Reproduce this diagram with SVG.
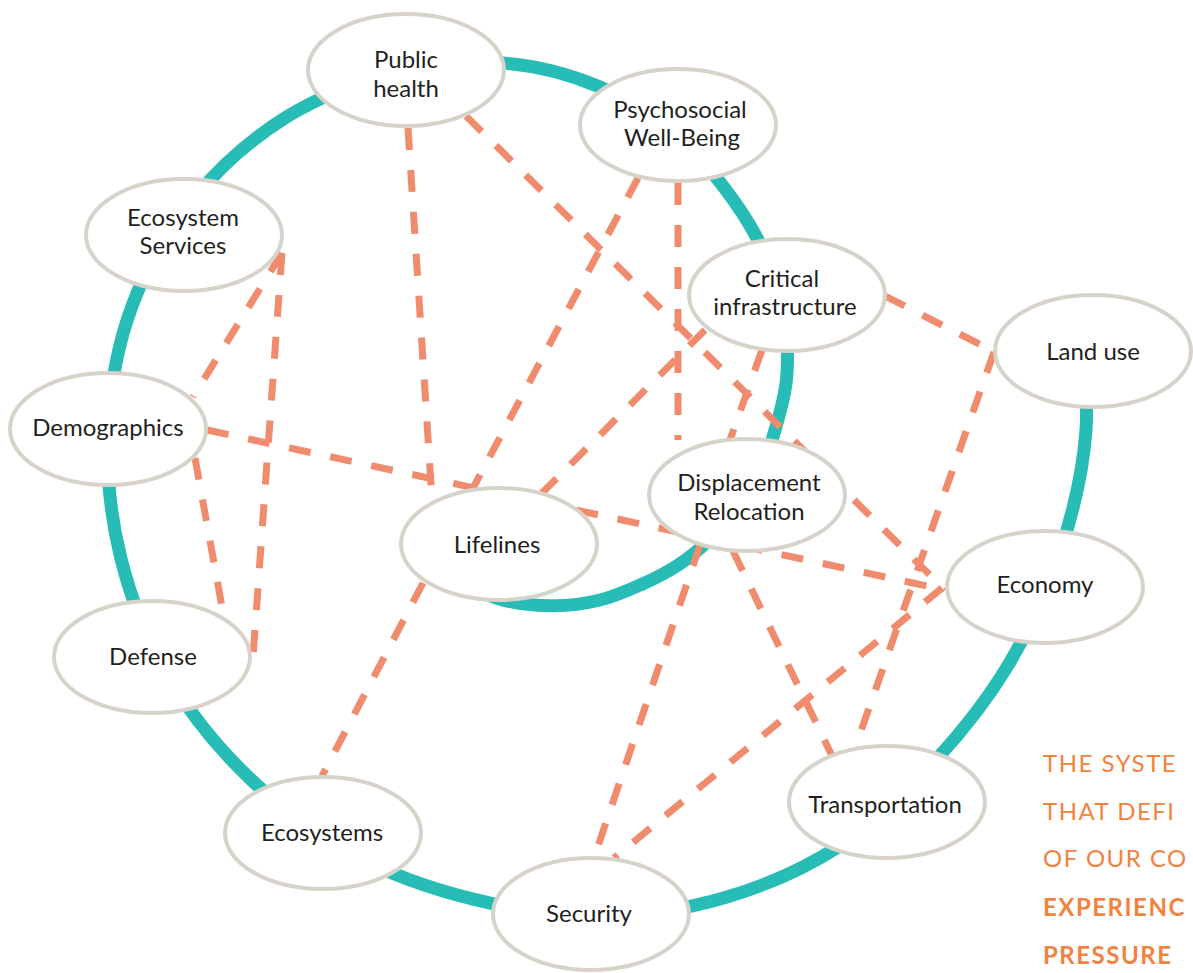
<svg xmlns="http://www.w3.org/2000/svg" width="1193" height="973" viewBox="0 0 1193 973">
<style>
.node ellipse{fill:#ffffff;stroke:#d7d3cb;stroke-width:4}
.node text{font-family:Lato,"Open Sans","Liberation Sans",sans-serif;font-size:24px;fill:#231f20;text-anchor:middle}
.spiral{fill:none;stroke:#27bdb6;stroke-width:13;stroke-linecap:butt}
.link{stroke:#f08b6d;stroke-width:7;stroke-dasharray:22 20;fill:none}
.cap{font-family:Lato,"Open Sans","Liberation Sans",sans-serif;font-size:24px;fill:#f2823e;letter-spacing:1.5px}
.capb{font-weight:bold}
</style>
<rect width="1193" height="973" fill="#ffffff"/>
<path class="spiral" d="M1077.2,302.2 C1080.1,344.8 1088.9,388.2 1086,430 C1083.1,471.8 1072.8,513.95 1059.8,553.2 C1046.8,592.5 1029,630.5 1007.9,665.5 C986.8,700.5 961,733 933,763 C905,793 874.6,823.3 840,845.7 C805.4,868.1 765.3,885.8 725.3,897.5 C685.3,909.2 641.9,915.7 600,916 C558.2,916.3 515.1,909.5 474.2,899.4 C433.3,889.3 391.8,875.2 354.5,855.2 C317.3,835.2 281.5,808.8 250.7,779.3 C219.9,749.9 191.2,715.3 169.6,678.5 C148,641.7 131.2,599.8 120.9,558.4 C110.6,517 106.1,472.3 108,430 C109.9,387.7 117.9,343.6 132.5,304.7 C147.1,265.8 169.9,227.8 195.6,196.5 C221.3,165.2 253.7,137.4 286.8,116.8 C319.9,96.3 358.2,82.2 394,73.2 C429.8,64.2 467.4,60.7 501.7,63 C536,65.3 570.6,74.6 600,87 C629.5,99.4 656.2,118.5 678.4,137.3 C700.6,156.1 718,178.9 733,199.6 C748,220.3 759.6,241.1 768.3,261.7 C777,282.3 782.3,303.3 785.3,323 C788.3,342.7 788.1,362.2 786.4,380 C784.7,397.8 779.5,414.6 775,430 C770.5,445.5 765.8,459.5 759.4,472.7 C753,485.9 745.1,497.9 736.8,509 C728.5,520.2 719.4,530.3 709.6,539.6 C699.8,549 689.4,557.6 678,565.1 C666.6,572.6 654.4,578.7 641.4,584.5 C628.4,590.3 614.8,596.5 600,600 C585.3,603.6 569.2,605.9 552.9,605.8 C536.6,605.8 518.9,604.3 502,599.7 C485.1,595.2 468.3,585.6 451.5,578.5"/>
<g id="connectors">
<line class="link" x1="408" y1="128" x2="432" y2="500"/>
<line class="link" x1="466" y1="116" x2="945" y2="590"/>
<line class="link" x1="638" y1="178" x2="472" y2="490"/>
<line class="link" x1="678" y1="183" x2="678" y2="440"/>
<line class="link" x1="705" y1="330" x2="538" y2="497"/>
<line class="link" x1="762" y1="350" x2="730" y2="440"/>
<line class="link" x1="885" y1="296" x2="995" y2="352"/>
<line class="link" x1="994" y1="352" x2="855" y2="748"/>
<line class="link" x1="282" y1="253" x2="193" y2="397"/>
<line class="link" x1="282" y1="253" x2="253" y2="657"/>
<line class="link" x1="195" y1="458" x2="224" y2="618"/>
<line class="link" x1="207" y1="430" x2="945" y2="590"/>
<line class="link" x1="423" y1="583" x2="322" y2="776"/>
<line class="link" x1="700" y1="545" x2="594" y2="858"/>
<line class="link" x1="733" y1="551" x2="834" y2="760"/>
<line class="link" x1="942" y1="588" x2="614" y2="858"/>
</g>
<g id="public-health" class="node"><ellipse cx="406" cy="70" rx="98" ry="56"/><text x="406" y="68">Public</text><text x="406" y="97">health</text></g>
<g id="psychosocial" class="node"><ellipse cx="678" cy="125" rx="98" ry="56"/><text x="680" y="118">Psychosocial</text><text x="682" y="146">Well-Being</text></g>
<g id="ecosystem-services" class="node"><ellipse cx="184" cy="235" rx="98" ry="56"/><text x="183" y="226">Ecosystem</text><text x="183" y="254">Services</text></g>
<g id="critical-infrastructure" class="node"><ellipse cx="787" cy="295" rx="98" ry="56"/><text x="782" y="287">Critical</text><text x="785" y="315">infrastructure</text></g>
<g id="land-use" class="node"><ellipse cx="1093" cy="351" rx="98" ry="56"/><text x="1093" y="360">Land use</text></g>
<g id="demographics" class="node"><ellipse cx="108" cy="429" rx="98" ry="56"/><text x="108" y="436">Demographics</text></g>
<g id="displacement" class="node"><ellipse cx="747" cy="495" rx="98" ry="56"/><text x="749" y="491">Displacement</text><text x="749" y="520">Relocation</text></g>
<g id="lifelines" class="node"><ellipse cx="499" cy="544" rx="98" ry="56"/><text x="497" y="553">Lifelines</text></g>
<g id="economy" class="node"><ellipse cx="1045" cy="587" rx="98" ry="56"/><text x="1045" y="593">Economy</text></g>
<g id="defense" class="node"><ellipse cx="152" cy="657" rx="98" ry="56"/><text x="153" y="665">Defense</text></g>
<g id="transportation" class="node"><ellipse cx="887" cy="802" rx="98" ry="56"/><text x="885" y="813">Transportation</text></g>
<g id="ecosystems" class="node"><ellipse cx="323" cy="833" rx="98" ry="56"/><text x="322" y="841">Ecosystems</text></g>
<g id="security" class="node"><ellipse cx="591" cy="914" rx="98" ry="56"/><text x="589" y="922">Security</text></g>
<g id="caption">
<text class="cap" x="1043" y="772">THE SYSTE</text>
<text class="cap" x="1043" y="820">THAT DEFI</text>
<text class="cap" x="1043" y="867">OF OUR CO</text>
<text class="cap capb" x="1043" y="916">EXPERIENC</text>
<text class="cap capb" x="1043" y="964">PRESSURE</text>
</g>
</svg>
